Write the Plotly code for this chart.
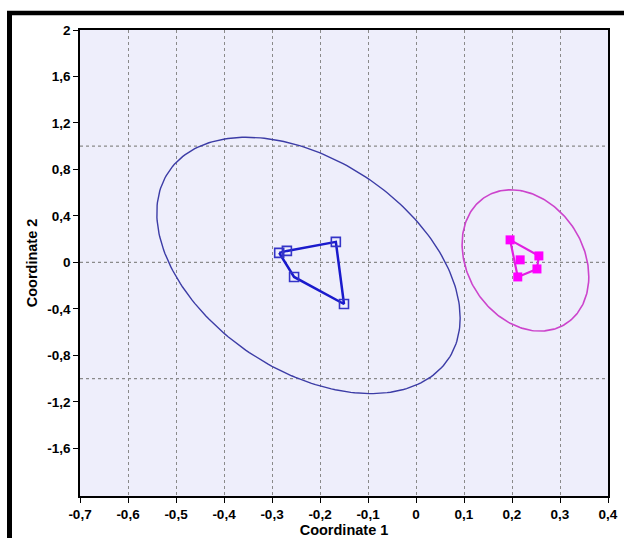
import numpy as np
import plotly.graph_objects as go

# ---- data ----
blue_x = [-0.285, -0.269, -0.167, -0.150, -0.254]
blue_y = [0.082, 0.099, 0.177, -0.358, -0.125]
pink_x = [0.196, 0.217, 0.256, 0.252, 0.212]
pink_y = [0.194, 0.022, 0.056, -0.056, -0.125]

# 95% ellipses: centre, half-extent in x, half-extent in y, correlation
blue_ellipse = dict(cx=-0.224, cy=-0.026, hx=0.316, hy=1.103, rho=-0.41)
pink_ellipse = dict(cx=0.228, cy=0.017, hx=0.132, hy=0.608, rho=-0.23)

x_ticks = [-0.7, -0.6, -0.5, -0.4, -0.3, -0.2, -0.1, 0.0, 0.1, 0.2, 0.3, 0.4]
x_ticktext = ["-0,7", "-0,6", "-0,5", "-0,4", "-0,3", "-0,2", "-0,1", "0", "0,1", "0,2", "0,3", "0,4"]
y_ticks = [2.0, 1.6, 1.2, 0.8, 0.4, 0.0, -0.4, -0.8, -1.2, -1.6]
y_ticktext = ["2", "1,6", "1,2", "0,8", "0,4", "0", "-0,4", "-0,8", "-1,2", "-1,6"]
h_grid = [1.0, 0.0, -1.0]


def hull(xs, ys):
    pts = sorted(zip(xs, ys))

    def cross(o, a, b):
        return (a[0] - o[0]) * (b[1] - o[1]) - (a[1] - o[1]) * (b[0] - o[0])

    lower, upper = [], []
    for p in pts:
        while len(lower) >= 2 and cross(lower[-2], lower[-1], p) <= 0:
            lower.pop()
        lower.append(p)
    for p in reversed(pts):
        while len(upper) >= 2 and cross(upper[-2], upper[-1], p) <= 0:
            upper.pop()
        upper.append(p)
    h = lower[:-1] + upper[:-1]
    h.append(h[0])
    return [p[0] for p in h], [p[1] for p in h]


def ellipse(e, n=240):
    t = np.linspace(0, 2 * np.pi, n)
    x = e["cx"] + e["hx"] * np.cos(t)
    y = e["cy"] + e["hy"] * (e["rho"] * np.cos(t) + np.sqrt(1 - e["rho"] ** 2) * np.sin(t))
    return x, y


fig = go.Figure()

bx, by = ellipse(blue_ellipse)
fig.add_trace(go.Scatter(x=bx, y=by, mode="lines", line=dict(color="#3c3ca6", width=1.4), hoverinfo="skip"))
px_, py_ = ellipse(pink_ellipse)
fig.add_trace(go.Scatter(x=px_, y=py_, mode="lines", line=dict(color="#cc44cc", width=1.6), hoverinfo="skip"))

hx, hy = hull(blue_x, blue_y)
fig.add_trace(go.Scatter(x=hx, y=hy, mode="lines", line=dict(color="#1a1acc", width=2.5)))
hx, hy = hull(pink_x, pink_y)
fig.add_trace(go.Scatter(x=hx, y=hy, mode="lines", line=dict(color="#e020e0", width=2.2)))

fig.add_trace(go.Scatter(x=blue_x, y=blue_y, mode="markers",
                         marker=dict(symbol="square-open", size=9, color="#3434c8", line=dict(width=1.6))))
fig.add_trace(go.Scatter(x=pink_x, y=pink_y, mode="markers",
                         marker=dict(symbol="square", size=9, color="#ff00ff", line=dict(width=0))))

W, H = 624, 538
L, R, T, B = 80, 16, 30, 42
pw, ph = W - L - R, H - T - B

shapes = []
for yv in h_grid:
    shapes.append(dict(type="line", xref="paper", yref="y", x0=0, x1=1, y0=yv, y1=yv,
                       line=dict(color="#8a8a8a", width=1.2, dash="dot"), layer="below"))
# outer black frame (top and left)
top_y = (H - B - 13) / ph
left_x = (9.5 - L) / pw
shapes.append(dict(type="line", xref="paper", yref="paper", x0=(7 - L) / pw, x1=(W + 5 - L) / pw,
                   y0=top_y, y1=top_y, line=dict(color="black", width=4.5)))
shapes.append(dict(type="line", xref="paper", yref="paper", x0=left_x, x1=left_x,
                   y0=(H - B - H - 5) / ph, y1=top_y + 2 / ph, line=dict(color="black", width=5)))

tickfont = dict(family="Liberation Sans, Arial", size=13.5, color="black", weight="bold")
titlefont = dict(family="Liberation Sans, Arial", size=14.5, color="black")
fig.update_layout(
    width=W, height=H,
    margin=dict(l=L, r=R, t=T, b=B, autoexpand=False),
    paper_bgcolor="white",
    plot_bgcolor="#eeeefb",
    showlegend=False,
    shapes=shapes,
    xaxis=dict(range=[-0.7, 0.4], tickvals=x_ticks, ticktext=["<b>%s</b>" % s for s in x_ticktext],
               automargin=False,
               showgrid=True, gridcolor="#8a8a8a", griddash="dot", gridwidth=1.2,
               zeroline=False, showline=True, linecolor="black", linewidth=1.5, mirror=True,
               ticks="outside", ticklen=5, tickcolor="black",
               tickfont=tickfont,
               title=dict(text="<b>Coordinate 1</b>", font=titlefont, standoff=2)),
    yaxis=dict(range=[-2.01, 2.0], tickvals=y_ticks, ticktext=["<b>%s</b>" % s for s in y_ticktext],
               automargin=False,
               showgrid=False, zeroline=False, showline=True, linecolor="black", linewidth=1.5, mirror=True,
               ticks="outside", ticklen=5, tickcolor="black",
               tickfont=tickfont,
               title=dict(text="<b>Coordinate 2</b>", font=titlefont, standoff=6)),
)

fig.write_html("out.html")
